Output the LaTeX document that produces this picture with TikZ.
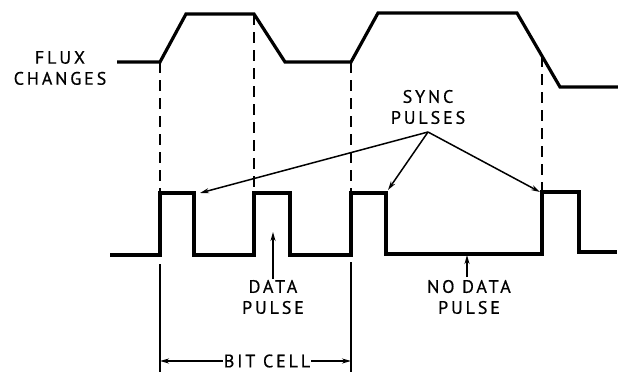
\documentclass[tikz,border=0pt]{standalone}
\usepackage{fontspec}
\setmainfont{PT Sans}[LetterSpace=16,FakeBold=0.6]
\usepackage{tikz}
\usetikzlibrary{arrows.meta,positioning,calc}

\begin{document}
\begin{tikzpicture}[
            x=1pt, y=-1pt,
            >={Stealth[length=9pt,width=5pt]},
            every node/.style={font=\fontsize{18}{21}\selectfont, align=center, inner sep=1pt},
            wave/.style={line width=3.2pt, line join=miter},
            guide/.style={line width=1.4pt, dash pattern=on 11pt off 7pt},
            pointer/.style={->, line width=1.5pt},
        ]
            \useasboundingbox (0,0) rectangle (618,372);
            % flux waveform
            \draw[wave] (117,62) -- (160,62) -- (186,14) -- (254,14) -- (285,62) -- (351,62)
                -- (378,13) -- (517,13) -- (560,87) -- (618,87);
            % pulse waveform
            \draw[wave] (110,255) -- (160,255) -- (160,193) -- (194,193) -- (194,255) -- (254,255)
                -- (254,193) -- (290,193) -- (290,255) -- (351,255) -- (351,193) -- (386,193)
                -- (386,254) -- (542,254) -- (542,192) -- (579,192) -- (579,252) -- (617,252);
            % transitions
            \coordinate (f1) at (160,62);  \coordinate (r1) at (160,193);
            \coordinate (f2) at (254,14);  \coordinate (r2) at (254,193);
            \coordinate (f3) at (351,62);  \coordinate (r3) at (351,193);
            \coordinate (f4) at (542,56);  \coordinate (r4) at (542,192);
            \foreach \i in {1,...,4}
                \draw[guide] (f\i) -- (r\i);

            \node (flux) at (60,68) {FLUX\\CHANGES};

            \node (sync) at (428,107) {SYNC\\PULSES};
            \coordinate (apex) at (428,132);
            \coordinate (s1) at (200,193);
            \coordinate (s3) at (388,190);
            \coordinate (s4) at (540,192);
            \foreach \t in {s1,s3,s4}
                \draw[pointer] (apex) -- (\t);

            \node (data) at (273,297) {DATA\\PULSE};
            \coordinate (dp) at (273,232);
            \draw[pointer] (data.north) -- (dp);

            \node (nodata) at (469,297) {NO DATA\\PULSE};
            \coordinate (ndp) at (467,255);
            \draw[pointer] (467,277) -- (ndp);

            % bit cell
            \coordinate (b1) at (160,264); \coordinate (b2) at (351,262);
            \draw[line width=1.4pt] (b1) -- (160,372);
            \draw[line width=1.4pt] (b2) -- (351,372);
            \node (bitcell) at (267,361) {BIT CELL};
            \draw[pointer] (bitcell.west) -- (160,361);
            \draw[pointer] (bitcell.east) -- (351,361);
        \end{tikzpicture}
\end{document}
